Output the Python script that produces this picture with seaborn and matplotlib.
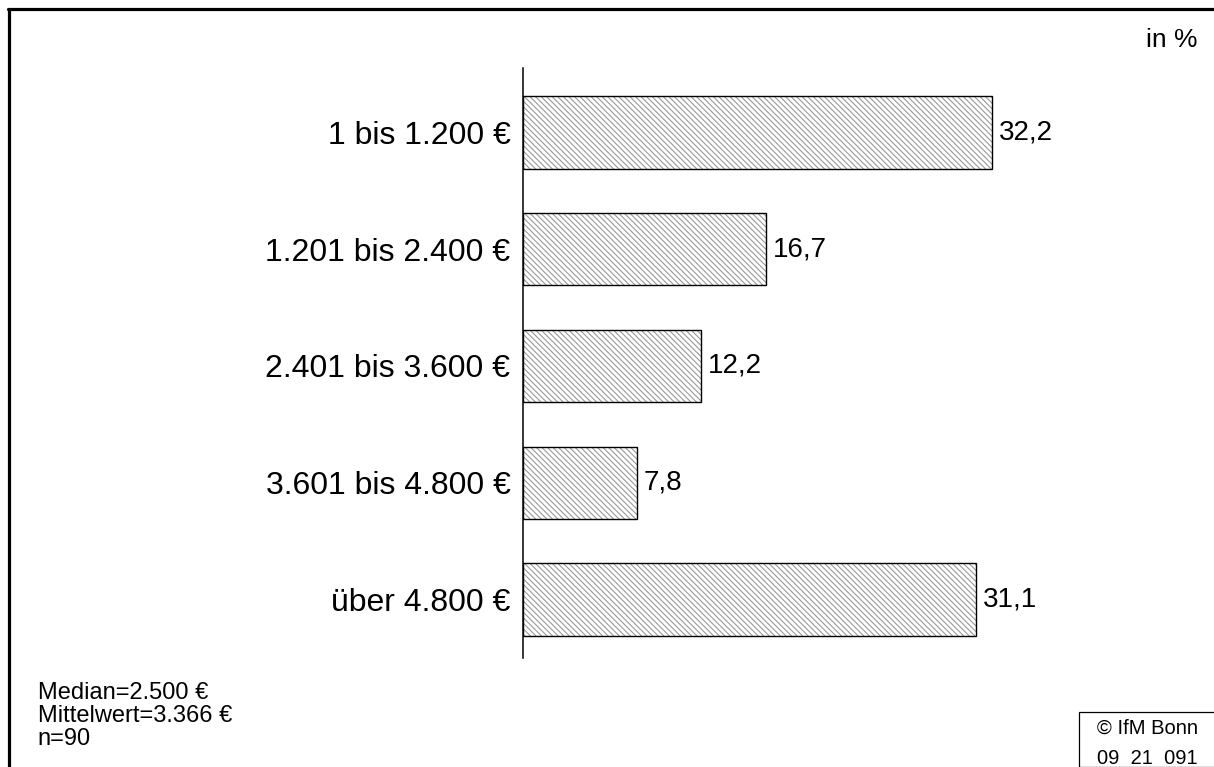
import matplotlib
matplotlib.use("Agg")
import matplotlib.pyplot as plt
import matplotlib.patches as mpatches
import pandas as pd
import seaborn as sns

# data
categories = ["1 bis 1.200 €", "1.201 bis 2.400 €", "2.401 bis 3.600 €",
              "3.601 bis 4.800 €", "über 4.800 €"]
shares = [32.2, 16.7, 12.2, 7.8, 31.1]
value_labels = ["32,2", "16,7", "12,2", "7,8", "31,1"]
stats_lines = ["Median=2.500 €", "Mittelwert=3.366 €", "n=90"]
source_lines = ["© IfM Bonn", "09  21  091"]

df = pd.DataFrame({"Einkommen": categories, "Anteil": shares})

sns.set_style("white")
plt.rcParams["font.family"] = ["Liberation Sans", "DejaVu Sans"]
plt.rcParams["text.color"] = "black"
plt.rcParams["ytick.color"] = "black"
plt.rcParams["ytick.labelcolor"] = "black"
plt.rcParams["hatch.linewidth"] = 0.8

fig = plt.figure(figsize=(12.14, 7.67), dpi=100)
ax = fig.add_axes([0.4308, 0.1421, 0.48, 0.7692])

sns.barplot(data=df, x="Anteil", y="Einkommen", orient="h", ax=ax,
            color="white", width=0.62, saturation=1)

for p in ax.patches:
    p.set_facecolor("white")
    p.set_edgecolor("#999999")
    p.set_hatch("\\\\\\\\\\\\")
    p.set_linewidth(0)
    outline = mpatches.Rectangle(p.get_xy(), p.get_width(), p.get_height(),
                                 fill=False, edgecolor="black", linewidth=1.0,
                                 zorder=p.get_zorder() + 1)
    ax.add_patch(outline)

for p, lab in zip(ax.patches[:len(shares)], value_labels):
    ax.annotate(lab, (p.get_width(), p.get_y() + p.get_height() / 2),
                xytext=(5, 0), textcoords="offset points",
                va="center", ha="left", fontsize=20, color="black")

ax.set_xlim(0, 40)
ax.set_ylim(4.5, -0.55)
ax.set_xlabel("")
ax.set_ylabel("")
ax.set_xticks([])
ax.tick_params(axis="y", length=0, pad=9, labelsize=23, labelcolor="black")
for side in ["top", "right", "bottom"]:
    ax.spines[side].set_visible(False)
ax.spines["left"].set_linewidth(1.1)
ax.spines["left"].set_color("black")

# frame lines (left and top)
fig.add_artist(plt.Line2D([0.0078, 0.0078], [0, 0.988], color="black", lw=2.3,
                          transform=fig.transFigure))
fig.add_artist(plt.Line2D([0.0066, 1.0], [0.988, 0.988], color="black", lw=2.3,
                          transform=fig.transFigure))

fig.text(0.986, 0.948, "in %", ha="right", va="center", fontsize=19)

for i, line in enumerate(stats_lines):
    fig.text(0.031, 1 - (693 + i * 23) / 767, line, ha="left", va="center", fontsize=17)

# source box
fig.add_artist(mpatches.Rectangle((1079 / 1214, 0), 0.2, 1 - 712 / 767,
                                  fill=False, edgecolor="black", lw=0.9,
                                  transform=fig.transFigure))
for i, line in enumerate(source_lines):
    fig.text(1097 / 1214, 1 - (728 + i * 30) / 767, line, ha="left", va="center",
             fontsize=14.5)

plt.savefig("out.png", dpi=100)
